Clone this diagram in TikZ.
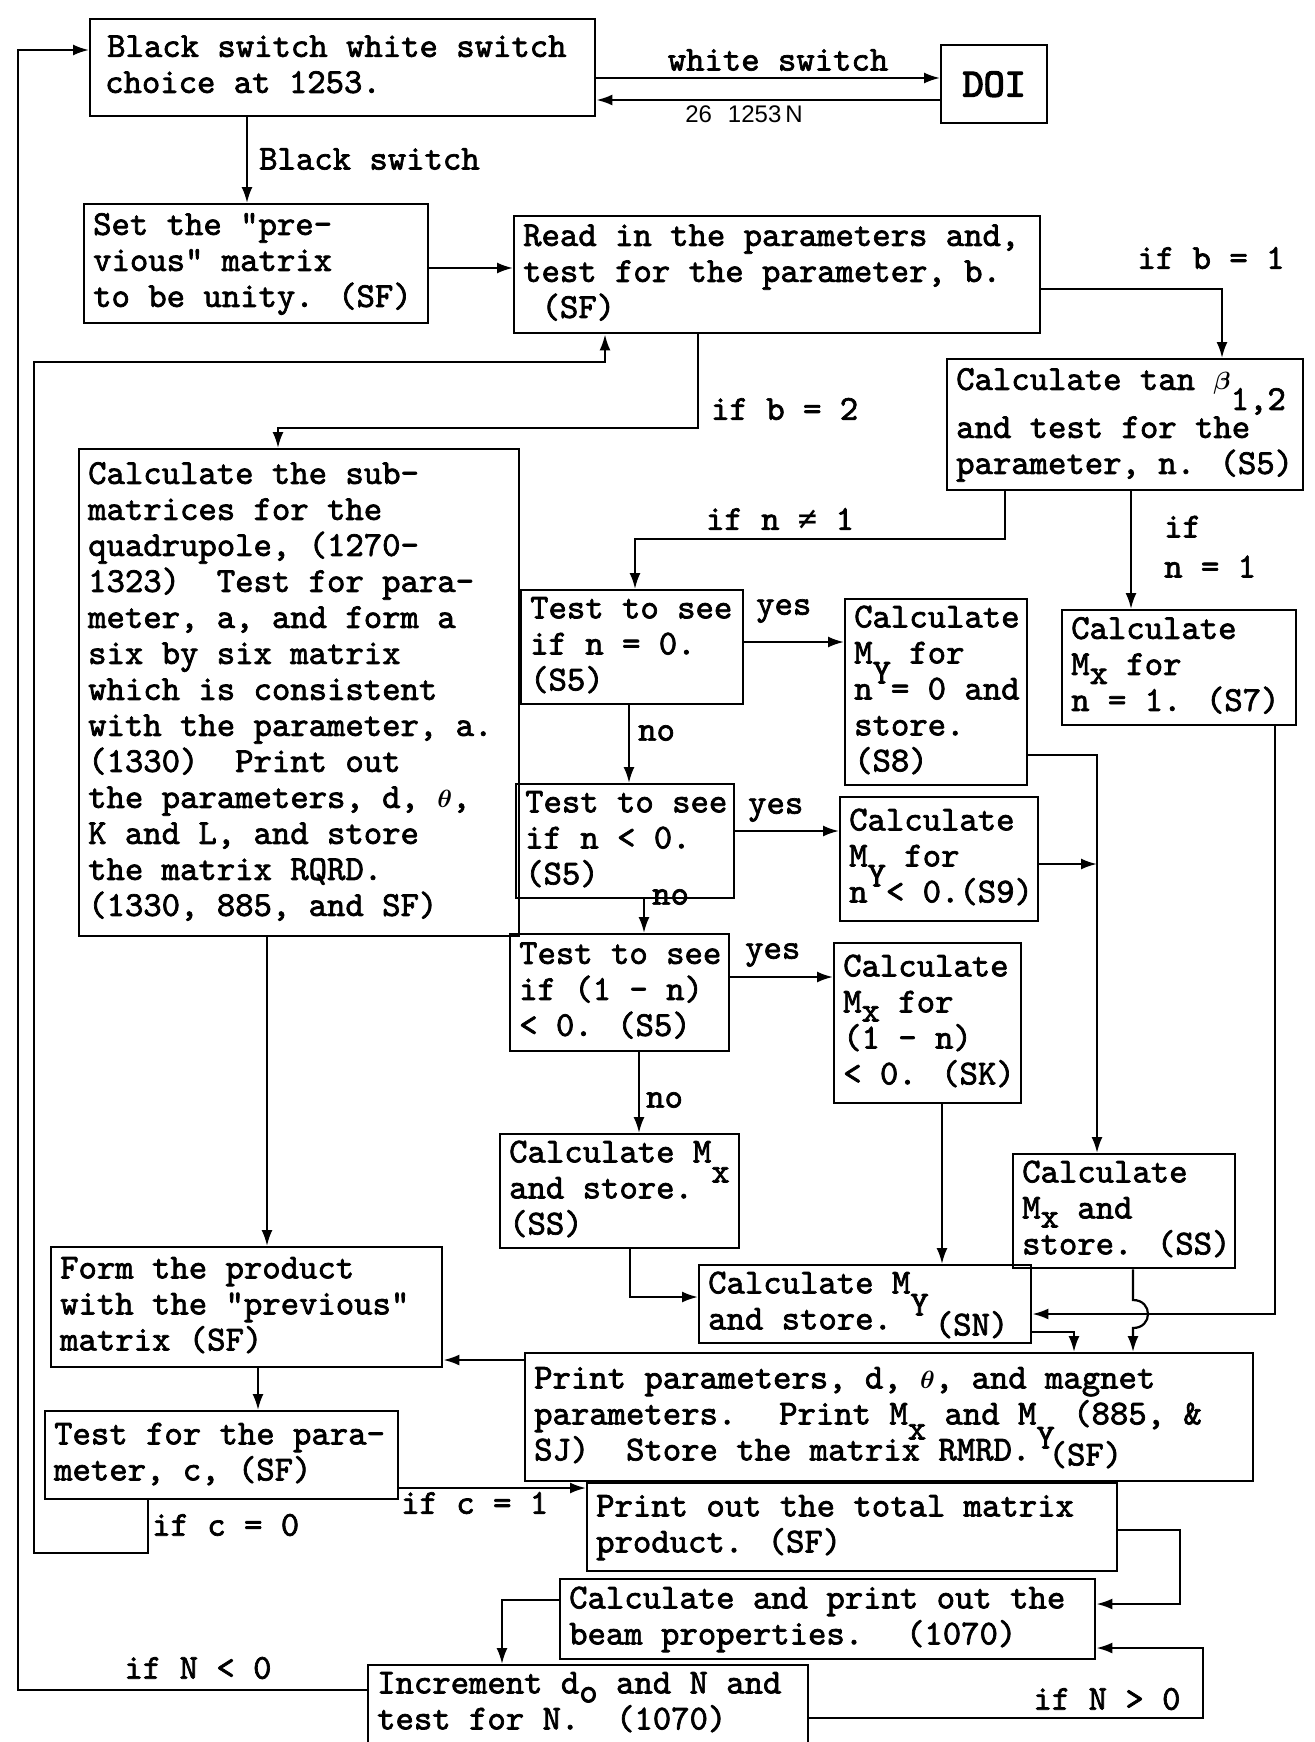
\documentclass[tikz,border=0pt]{standalone}
\usepackage{fontspec}
\usetikzlibrary{arrows.meta}
\newfontfamily\tw{lmmono10-regular.otf}[FakeBold=2]
\newfontfamily\twb{lmmono10-regular.otf}[FakeBold=3.5]
\newfontfamily\lsans{Liberation Sans}
\newfontfamily\djm{DejaVu Sans Mono}
\newcommand{\tlines}[1]{\spaceskip=0pt\relax\xspaceskip=0pt\relax\begin{tabular}{@{}l@{}}#1\end{tabular}}
\newcommand{\dn}[2]{\raisebox{-#1pt}[0pt][0pt]{#2}}
\newcommand{\gth}{{\boldmath$\theta$}}
\newcommand{\gbe}{{\boldmath$\beta$}}
\begin{document}
\begin{tikzpicture}[x=1pt, y=-1pt,
  bx/.style={draw, line width=2.4pt, anchor=north west, inner xsep=9pt, inner ysep=3pt, align=left,
    font=\tw\fontsize{35pt}{36pt}\selectfont},
  lbl/.style={inner sep=0pt, font=\tw\fontsize{35pt}{36pt}\selectfont},
  arr/.style={draw, line width=2.2pt, -{Latex[length=16pt,width=11pt]}}]
\fill[white] (0,0) rectangle (1314,1742);
\useasboundingbox (0,0) rectangle (1314,1742);

% boxes
\node[bx, minimum width=505pt, minimum height=97pt, text width=487pt] (b1) at (89,18)
  {\tlines{\hspace{8pt}Black switch white switch\\\hspace{6pt}choice at 1253.}};
\node[bx, minimum width=106pt, minimum height=78pt, align=center,
  font=\twb\fontsize{40pt}{40pt}\selectfont] (doi) at (940,44) {DOI};
\node[bx, minimum width=344pt, minimum height=119pt, text width=326pt] (b2) at (83,203)
  {\tlines{Set the "pre-\\vious" matrix\\to be unity. (SF)}};
\node[bx, minimum width=526pt, minimum height=117pt, text width=508pt] (b3) at (513,215)
  {\tlines{Read in the parameters and,\\test for the parameter, b.\\~(SF)}};
\node[bx, minimum width=356pt, minimum height=131pt, text width=338pt] (tan) at (946,358)
  {\tlines{Calculate tan \gbe\dn{20}{1,2}\\[12pt]and test for the\\parameter, n. (S5)}};
\node[bx, minimum width=440pt, minimum height=487pt, text width=422pt] (quad) at (78,448)
  {\tlines{Calculate the sub-\\matrices for the\\quadrupole, (1270-\\1323)~ Test for para-\\meter, a, and form a\\six by six matrix\\which is consistent\\with the parameter, a.\\(1330)~ Print out\\the parameters, d, \gth,\\K and L, and store\\the matrix RQRD.\\(1330, 885, and SF)}};
\node[bx, minimum width=222pt, minimum height=114pt, text width=204pt] (t1) at (520,589)
  {\tlines{Test to see\\if n = 0.\\(S5)}};
\node[bx, minimum width=182pt, minimum height=182pt, text width=164pt] (my0) at (844,598)
  {\tlines{Calculate\\M\dn{20}{Y} for\\n = 0 and\\store.\\(S8)}};
\node[bx, minimum width=234pt, minimum height=115pt, text width=216pt] (mxn1) at (1061,609)
  {\tlines{Calculate\\M\dn{9}{x} for\\n = 1. (S7)}};
\node[bx, minimum width=218pt, minimum height=106pt, text width=200pt] (t2) at (515,783)
  {\tlines{Test to see\\if n < 0.\\(S5)}};
\node[bx, minimum width=198pt, minimum height=124pt, text width=180pt] (myn) at (839,796)
  {\tlines{Calculate\\M\dn{20}{Y} for\\n < 0.(S9)}};
\node[bx, minimum width=219pt, minimum height=117pt, text width=201pt] (t3) at (509,933)
  {\tlines{Test to see\\if (1 - n)\\< 0. (S5)}};
\node[bx, minimum width=187pt, minimum height=160pt, text width=169pt] (mx1n) at (833,942)
  {\tlines{Calculate\\M\dn{9}{x} for\\(1 - n)\\< 0. (SK)}};
\node[bx, minimum width=239pt, minimum height=113pt, text width=221pt] (mx) at (499,1133)
  {\tlines{Calculate M\dn{20}{x}\\and store.\\(SS)}};
\node[bx, minimum width=222pt, minimum height=108pt, text width=204pt] (mxss) at (1012,1153)
  {\tlines{Calculate\\M\dn{9}{x} and\\store. (SS)}};
\node[bx, minimum width=391pt, minimum height=120pt, text width=373pt] (form) at (50,1246)
  {\tlines{Form the product\\with the "previous"\\matrix (SF)}};
\node[bx, minimum width=332pt, minimum height=78pt, text width=314pt] (sn) at (698,1264)
  {\tlines{Calculate M\dn{22}{Y}\\and store.~ \dn{6}{(SN)}}};
\node[bx, minimum width=728pt, minimum height=128pt, text width=710pt] (pp) at (524,1352)
  {\tlines{Print parameters, d, \gth, and magnet\\parameters.~ Print M\dn{15}{x} and M\dn{24}{Y} (885, \&\\SJ)~ Store the matrix RMRD. \dn{5}{(SF)}}};
\node[bx, minimum width=353pt, minimum height=88pt, text width=335pt] (testc) at (44,1410)
  {\tlines{Test for the para-\\meter, c, (SF)}};
\node[bx, minimum width=530pt, minimum height=88pt, text width=512pt] (ptot) at (586,1482)
  {\tlines{Print out the total matrix\\product. (SF)}};
\node[bx, minimum width=535pt, minimum height=80pt, text width=517pt] (beam) at (559,1578)
  {\tlines{Calculate and print out the\\beam properties.~ (1070)}};
\node[bx, minimum width=440pt, minimum height=78pt, text width=422pt] (inc) at (367,1664)
  {\tlines{Increment d\dn{9}{o} and N and\\test for N.~ (1070)}};

% labels
\node[lbl] (lws) at (778,60) {white switch};
\node[lbl, font=\lsans\fontsize{24pt}{28pt}\selectfont] (l26) at (744,114) {26\hspace{16pt}1253\,N};
\node[lbl, anchor=west] (lbs) at (259,159) {Black switch};
\node[lbl] (lb1) at (1211,258) {if b = 1};
\node[lbl, anchor=west] (lb2) at (711,409) {if b = 2};
\node[lbl] (ln1) at (780,519) {if n {\djm\fontsize{32pt}{36pt}\selectfont ≠} 1};
\node[lbl, anchor=north west] (ln1b) at (1164,512) {\tlines{if\\[4pt]n = 1}};
\node[lbl, anchor=west] (ly1) at (756,611) {yes};
\node[lbl, anchor=west] (ly2) at (748,810) {yes};
\node[lbl, anchor=west] (ly3) at (745,955) {yes};
\node[lbl, anchor=west] (lno1) at (638,733) {no};
\node[lbl, anchor=west] (lno2) at (652,897) {no};
\node[lbl, anchor=west] (lno3) at (646,1100) {no};
\node[lbl, anchor=west] (lc1) at (401,1503) {if c = 1};
\node[lbl, anchor=west] (lc0) at (152,1525) {if c = 0};
\node[lbl] (lnl) at (198,1668) {if N < 0};
\node[lbl] (lng) at (1107,1699) {if N > 0};

% connectors
\draw[arr] (b1.east |- 0,78) -- (doi.west |- 0,78);
\draw[arr] (doi.west |- 0,100) -- (b1.east |- 0,100);
\draw[arr] (b1.south -| 247,0) -- (b2.north -| 247,0);
\draw[arr] (b2.east |- 0,268) -- (b3.west |- 0,268);
\draw[arr] (b3.east |- 0,289) -| (tan.north -| 1222,0);
\draw[arr] (b3.south -| 698,0) |- (278,428) -- (quad.north -| 278,0);
\draw[arr] (testc.south -| 148,0) |- (34,1553) |- (605,362) -- (b3.south -| 605,0);
\draw[arr] (inc.west |- 0,1690) -- (18,1690) -- (18,50) -- (b1.west |- 0,50);
\draw[arr] (quad.south -| 267,0) -- (form.north -| 267,0);
\draw[arr] (tan.south -| 1005,0) |- (635,539) -- (t1.north -| 635,0);
\draw[arr] (tan.south -| 1131,0) -- (mxn1.north -| 1131,0);
\draw[arr] (t1.east |- 0,642) -- (my0.west |- 0,642);
\draw[arr] (t1.south -| 629,0) -- (t2.north -| 629,0);
\draw[arr] (t2.east |- 0,831) -- (myn.west |- 0,831);
\draw[arr] (t2.south -| 644,0) -- (t3.north -| 644,0);
\draw[arr] (t3.east |- 0,977) -- (mx1n.west |- 0,977);
\draw[arr] (t3.south -| 639,0) -- (mx.north -| 639,0);
\draw[arr] (my0.east |- 0,755) -| (mxss.north -| 1097,0);
\coordinate (j1) at (1097,864);
\draw[arr] (myn.east |- j1) -- (j1);
\draw[arr] (mx1n.south -| 942,0) -- (sn.north -| 942,0);
\draw[arr] (mx.south -| 630,0) |- (sn.west |- 0,1297);
\draw[arr] (mxn1.south -| 1275,0) |- (sn.east |- 0,1314);
\draw[arr] (mxss.south -| 1133,0) -- (1133,1300) .. controls (1153,1300) and (1153,1328) .. (1133,1328) -- (pp.north -| 1133,0);
\draw[arr] (sn.east |- 0,1332) -| (pp.north -| 1074,0);
\draw[arr] (pp.west |- 0,1360) -- (form.east |- 0,1360);
\draw[arr] (form.south -| 258,0) -- (testc.north -| 258,0);
\draw[arr] (testc.east |- 0,1488) -- (ptot.west |- 0,1488);
\draw[arr] (ptot.east |- 0,1530) -| (1180,1604) -- (beam.east |- 0,1604);
\draw[arr] (inc.east |- 0,1718) -| (1203,1648) -- (beam.east |- 0,1648);
\draw[arr] (beam.west |- 0,1600) -| (inc.north -| 502,0);
\end{tikzpicture}
\end{document}
